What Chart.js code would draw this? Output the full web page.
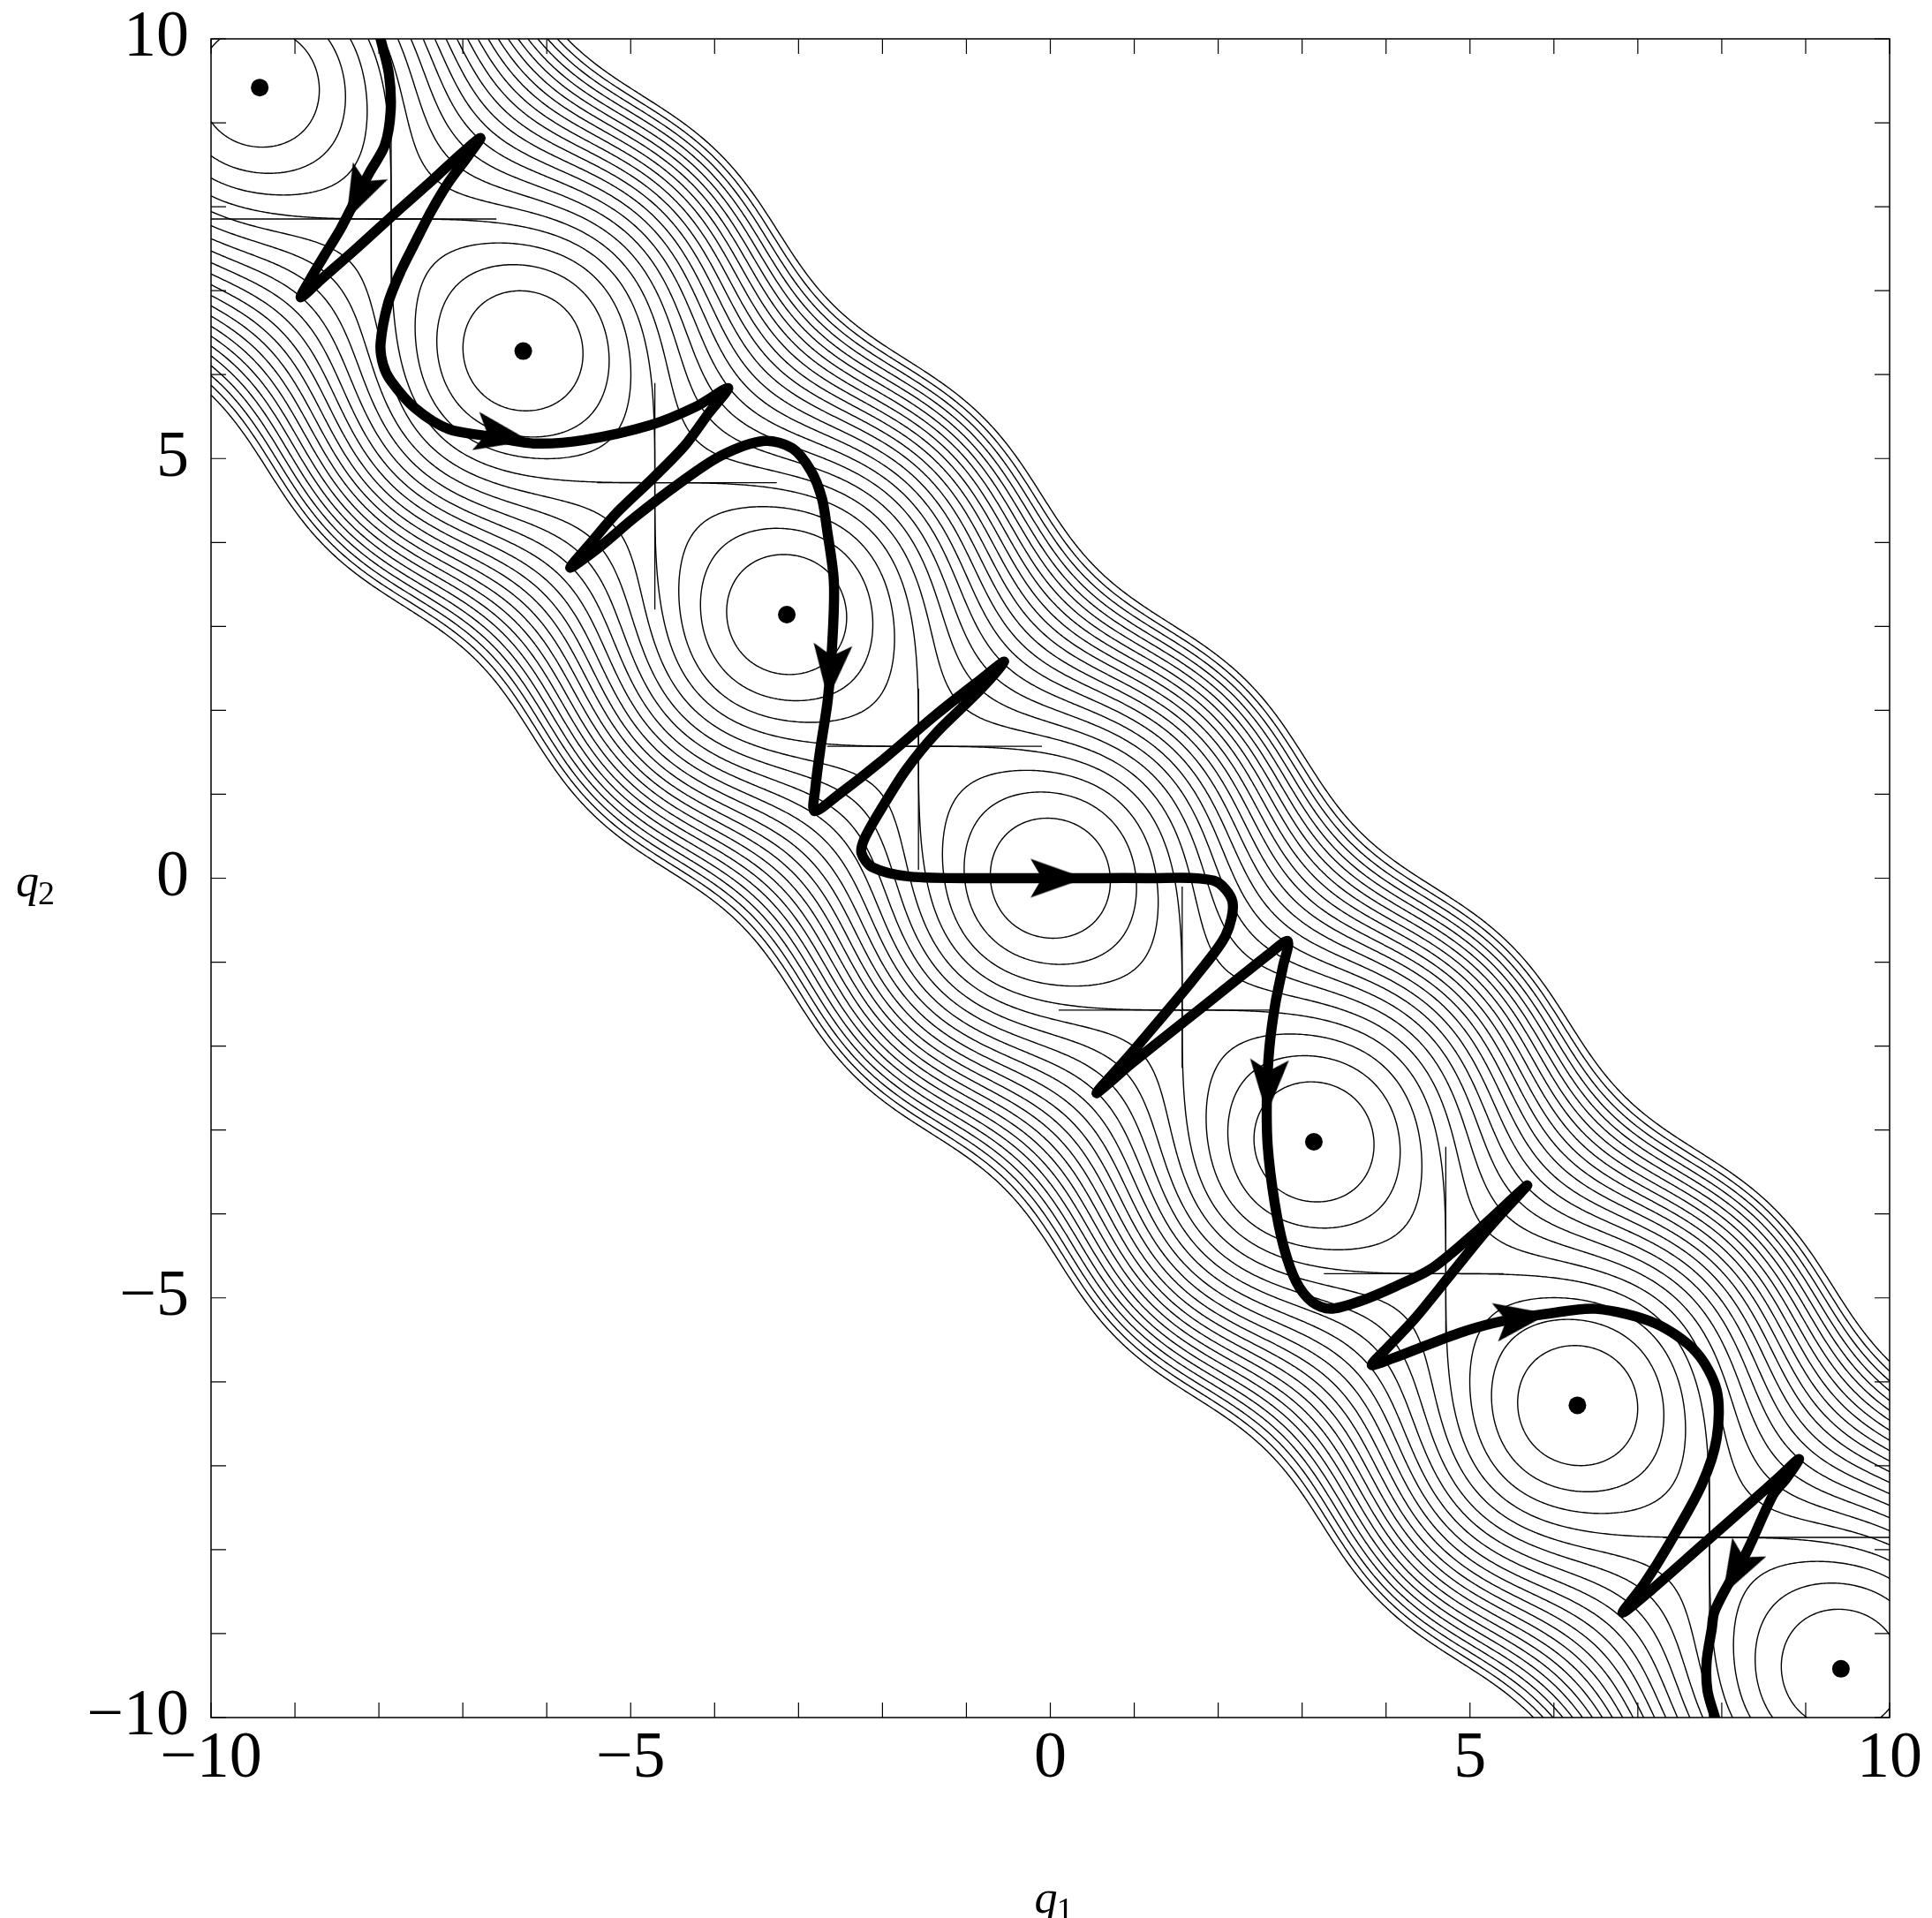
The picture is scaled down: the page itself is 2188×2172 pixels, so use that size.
<!DOCTYPE html>
<html>
<head>
<meta charset="utf-8">
<script src="https://cdn.jsdelivr.net/npm/chart.js@4.4.1/dist/chart.umd.min.js"></script>
<style>
  html, body { margin: 0; padding: 0; background: #fff; }
</style>
</head>
<body>
<canvas id="chart" width="2188" height="2172"></canvas>
<script>
// minima of the potential (the black dots)
const wellQ1 = [-9.42, -6.28, -3.14, 3.14, 6.28, 9.42];
const wellQ2 = [9.42, 6.28, 3.14, -3.14, -6.28, -9.42];

// contour levels of the potential surface
const contourLevels = [-0.5, 0, 0.5, 1, 1.5, 2, 2.5, 3, 3.5, 4, 4.5, 5, 5.5, 6, 6.5, 7, 7.5, 8, 8.5, 9, 9.5, 10];

// straight seams through the saddles
const seamVertQ1 = [-7.854, -4.712, -1.571, 1.571, 4.712, 7.854];
const seamVertFrom = [7.1, 3.2, 0.1, -2.26, -5.54, -10];
const seamVertTo = [9.6, 5.9, 2.26, -0.1, -3.2, -7.15];
const seamHorQ2 = [7.854, 4.712, 1.571, -1.571, -4.712, -7.854];
const seamHorFrom = [-10, -5.4, -2.66, 0.1, 3.26, 7.3];
const seamHorTo = [-6.6, -3.26, -0.1, 2.66, 5.4, 10];

// trajectory
const pathQ1 = [
  -7.98, -7.88, -7.86, -7.93, -8.11, -8.29, -8.46, -8.65, -8.81, -8.93,
  -8.67, -8.26, -7.82, -7.38, -7.01, -6.79,
  -6.94, -7.17, -7.38, -7.57, -7.74, -7.89, -7.98, -7.95, -7.86, -7.57, -7.17, -6.72, -6.16, -5.56, -4.76, -4.22, -3.84,
  -4.07, -4.35, -4.73, -5.16, -5.47, -5.72,
  -5.39, -4.95, -4.44, -3.93, -3.41, -3.07, -2.85, -2.72, -2.66, -2.58, -2.59, -2.65, -2.74, -2.80, -2.81,
  -2.53, -2.02, -1.36, -0.84, -0.55,
  -0.84, -1.36, -1.72, -2.00, -2.21, -2.25, -2.12, -1.68, -0.77, 0.38, 1.14, 1.95, 2.17, 2.09, 1.74, 1.36, 0.96, 0.55,
  0.99, 1.58, 2.17, 2.61, 2.83,
  2.77, 2.68, 2.61, 2.58, 2.59, 2.67, 2.78, 2.93, 3.12, 3.34, 3.69, 4.12, 4.56, 5.10, 5.68,
  5.40, 5.12, 4.74, 4.34, 4.00, 3.83,
  4.08, 4.52, 4.96, 5.37, 5.92, 6.50, 7.20, 7.69, 7.94, 7.94, 7.76, 7.38, 7.08, 6.82,
  7.16, 7.75, 8.33, 8.70, 8.92,
  8.77, 8.61, 8.30, 8.04, 7.91, 7.88, 7.82, 7.83, 7.92
];
const pathQ2 = [
  10.0, 9.58, 9.14, 8.73, 8.41, 8.06, 7.73, 7.42, 7.15, 6.92,
  7.15, 7.51, 7.91, 8.30, 8.64, 8.82,
  8.60, 8.29, 7.94, 7.57, 7.23, 6.85, 6.37, 6.12, 5.93, 5.60, 5.35, 5.27, 5.18, 5.22, 5.40, 5.62, 5.84,
  5.54, 5.16, 4.77, 4.36, 4.00, 3.70,
  3.93, 4.30, 4.69, 5.03, 5.21, 5.12, 4.85, 4.52, 4.15, 3.55, 2.95, 2.14, 1.54, 1.07, 0.80,
  0.99, 1.39, 1.95, 2.36, 2.58,
  2.24, 1.73, 1.29, 0.85, 0.48, 0.30, 0.13, 0.02, 0.0, 0.0, 0.0, -0.03, -0.28, -0.68, -1.16, -1.62, -2.09, -2.56,
  -2.19, -1.72, -1.25, -0.90, -0.75,
  -1.06, -1.50, -2.02, -2.60, -3.19, -3.85, -4.39, -4.81, -5.05, -5.13, -5.04, -4.86, -4.64, -4.19, -3.66,
  -3.97, -4.29, -4.76, -5.25, -5.61, -5.80,
  -5.72, -5.55, -5.39, -5.28, -5.19, -5.13, -5.30, -5.64, -6.10, -6.67, -7.23, -7.92, -8.40, -8.75,
  -8.48, -7.96, -7.45, -7.12, -6.92,
  -7.15, -7.35, -8.02, -8.48, -8.75, -8.95, -9.33, -9.68, -10.0
];

// arrowheads on the trajectory: back and tip
const arrowBaseQ1 = [-8.12, -6.80, -2.59, -0.20, 2.61, 5.37, 8.30];
const arrowBaseQ2 = [8.39, 5.32, 2.78, 0.0, -2.19, -5.28, -8.02];
const arrowTipQ1 = [-8.37, -6.25, -2.65, 0.38, 2.58, 5.87, 8.04];
const arrowTipQ2 = [7.88, 5.22, 2.14, 0.0, -2.78, -5.20, -8.49];

const tickMarks = [];
for (let v = -10; v <= 10; v++) tickMarks.push(v);

// potential surface whose level sets are drawn
function surface(a, b) {
  return 0.5 * (a + b) * (a + b) - Math.cos(a - b);
}

const N = 480, LO = -10, HI = 10, STEP = (HI - LO) / N, W = N + 1;
const grid = new Float64Array(W * W);
for (let j = 0; j <= N; j++) {
  for (let i = 0; i <= N; i++) grid[j * W + i] = surface(LO + i * STEP, LO + j * STEP);
}

// marching squares, then join the pieces into polylines
function contourLines(level) {
  const segs = [];
  const VOFF = W * W;
  for (let j = 0; j < N; j++) {
    for (let i = 0; i < N; i++) {
      const v0 = grid[j * W + i], v1 = grid[j * W + i + 1];
      const v2 = grid[(j + 1) * W + i + 1], v3 = grid[(j + 1) * W + i];
      let c = 0;
      if (v0 > level) c |= 1;
      if (v1 > level) c |= 2;
      if (v2 > level) c |= 4;
      if (v3 > level) c |= 8;
      if (c === 0 || c === 15) continue;
      const x0 = LO + i * STEP, y0 = LO + j * STEP;
      const B = () => ({ k: j * W + i, x: x0 + STEP * (level - v0) / (v1 - v0), y: y0 });
      const R = () => ({ k: VOFF + j * W + i + 1, x: x0 + STEP, y: y0 + STEP * (level - v1) / (v2 - v1) });
      const T = () => ({ k: (j + 1) * W + i, x: x0 + STEP * (level - v3) / (v2 - v3), y: y0 + STEP });
      const L = () => ({ k: VOFF + j * W + i, x: x0, y: y0 + STEP * (level - v0) / (v3 - v0) });
      const mid = (v0 + v1 + v2 + v3) / 4 > level;
      let pairs;
      switch (c) {
        case 1: case 14: pairs = [[B, L]]; break;
        case 2: case 13: pairs = [[B, R]]; break;
        case 3: case 12: pairs = [[L, R]]; break;
        case 4: case 11: pairs = [[R, T]]; break;
        case 6: case 9: pairs = [[B, T]]; break;
        case 7: case 8: pairs = [[L, T]]; break;
        case 5: pairs = mid ? [[B, R], [L, T]] : [[B, L], [R, T]]; break;
        case 10: pairs = mid ? [[B, L], [R, T]] : [[B, R], [L, T]]; break;
      }
      pairs.forEach(p => segs.push([p[0](), p[1]()]));
    }
  }

  const byKey = new Map();
  segs.forEach((s, n) => {
    for (const e of s) {
      if (!byKey.has(e.k)) byKey.set(e.k, []);
      byKey.get(e.k).push(n);
    }
  });
  const used = new Uint8Array(segs.length);
  const walk = (key, out) => {
    for (;;) {
      const next = (byKey.get(key) || []).find(m => !used[m]);
      if (next === undefined) return;
      used[next] = 1;
      const s = segs[next];
      const far = s[0].k === key ? s[1] : s[0];
      out.push({ x: far.x, y: far.y });
      key = far.k;
    }
  };
  const lines = [];
  for (let n = 0; n < segs.length; n++) {
    if (used[n]) continue;
    used[n] = 1;
    const s = segs[n];
    const fwd = [{ x: s[0].x, y: s[0].y }, { x: s[1].x, y: s[1].y }];
    walk(s[1].k, fwd);
    const back = [];
    walk(s[0].k, back);
    lines.push(back.reverse().concat(fwd));
  }
  return lines;
}

function withGaps(lines) {
  const out = [];
  lines.forEach(l => { out.push(...l); out.push({ x: NaN, y: NaN }); });
  return out;
}

const seamLines = [];
seamVertQ1.forEach((q, n) => seamLines.push([{ x: q, y: seamVertFrom[n] }, { x: q, y: seamVertTo[n] }]));
seamHorQ2.forEach((q, n) => seamLines.push([{ x: seamHorFrom[n], y: q }, { x: seamHorTo[n], y: q }]));

function arrowSprite() {
  const c = document.createElement('canvas');
  c.width = 80; c.height = 80;
  const g = c.getContext('2d');
  g.fillStyle = '#000';
  g.beginPath();
  g.moveTo(71, 40);
  g.lineTo(9, 18);
  g.lineTo(22, 40);
  g.lineTo(9, 62);
  g.closePath();
  g.fill();
  return c;
}

const arrowPoints = arrowBaseQ1.map((b, n) => ({
  x: (b + arrowTipQ1[n]) / 2,
  y: (arrowBaseQ2[n] + arrowTipQ2[n]) / 2
}));
const arrowAngles = arrowBaseQ1.map((b, n) =>
  Math.atan2(-(arrowTipQ2[n] - arrowBaseQ2[n]), arrowTipQ1[n] - b) * 180 / Math.PI);

const fmt = v => (v < 0 ? '\u2212' + Math.abs(v) : String(v));

const framePlugin = {
  id: 'frame',
  afterDatasetsDraw(chart) {
    const { ctx, chartArea: a, scales: { x, y } } = chart;
    ctx.save();
    ctx.strokeStyle = '#000';
    ctx.lineWidth = 1.5;
    ctx.strokeRect(a.left, a.top, a.right - a.left, a.bottom - a.top);
    ctx.lineWidth = 1.2;
    ctx.beginPath();
    tickMarks.forEach(v => {
      const px = x.getPixelForValue(v), py = y.getPixelForValue(v);
      ctx.moveTo(px, a.bottom); ctx.lineTo(px, a.bottom - 17);
      ctx.moveTo(px, a.top); ctx.lineTo(px, a.top + 17);
      ctx.moveTo(a.left, py); ctx.lineTo(a.left + 17, py);
      ctx.moveTo(a.right, py); ctx.lineTo(a.right - 17, py);
    });
    ctx.stroke();

    // axis titles q1, q2
    const title = (sub, left, base) => {
      ctx.fillStyle = '#000';
      ctx.textBaseline = 'alphabetic';
      ctx.textAlign = 'left';
      ctx.font = 'italic 52px "Liberation Serif"';
      ctx.fillText('q', left, base);
      const w = ctx.measureText('q').width;
      ctx.font = '38px "Liberation Serif"';
      ctx.fillText(sub, left + w - 1, base + 9);
    };
    title('1', (a.left + a.right) / 2 - 18, 2166);
    title('2', 18, 1015);
    ctx.restore();
  }
};

const lineBase = { type: 'scatter', showLine: true, pointRadius: 0, borderColor: '#000', clip: 0 };

const datasets = [
  {
    type: 'scatter', data: arrowPoints, pointStyle: arrowSprite(), rotation: arrowAngles,
    pointRadius: 10, order: 0, clip: false
  },
  {
    type: 'scatter', data: wellQ1.map((q, n) => ({ x: q, y: wellQ2[n] })),
    pointRadius: 10, pointBackgroundColor: '#000', pointBorderWidth: 0, order: 1
  },
  Object.assign({}, lineBase, {
    data: pathQ1.map((q, n) => ({ x: q, y: pathQ2[n] })),
    borderWidth: 11.5, tension: 0.3, borderJoinStyle: 'round', borderCapStyle: 'round', order: 2
  }),
  Object.assign({}, lineBase, { data: withGaps(seamLines), borderWidth: 1.3, tension: 0.01, order: 3 })
];
contourLevels.forEach(level => {
  datasets.push(Object.assign({}, lineBase, {
    data: withGaps(contourLines(level)), borderWidth: 1.4, tension: 0.05, order: 4
  }));
});

const tickFont = { family: 'Liberation Serif', size: 74, lineHeight: 1 };

new Chart(document.getElementById('chart'), {
  type: 'scatter',
  data: { datasets },
  options: {
    responsive: false,
    animation: false,
    devicePixelRatio: 1,
    events: [],
    layout: { padding: { top: 44, right: 48, left: 0, bottom: 0 } },
    plugins: { legend: { display: false }, tooltip: { enabled: false } },
    scales: {
      x: {
        type: 'linear', position: 'bottom', min: -10, max: 10,
        grid: { display: false }, border: { display: false },
        ticks: { stepSize: 5, padding: 3, color: '#000', font: tickFont, maxRotation: 0, autoSkip: false, callback: fmt },
        afterFit: s => { s.height = 227; s.paddingLeft = 0; s.paddingRight = 0; }
      },
      y: {
        type: 'linear', position: 'left', min: -10, max: 10,
        grid: { display: false }, border: { display: false },
        ticks: { stepSize: 5, padding: 17, color: '#000', font: tickFont, autoSkip: false, callback: fmt },
        afterFit: s => { s.width = 239; s.paddingTop = 0; s.paddingBottom = 0; }
      }
    }
  },
  plugins: [framePlugin]
});
</script>
</body>
</html>
